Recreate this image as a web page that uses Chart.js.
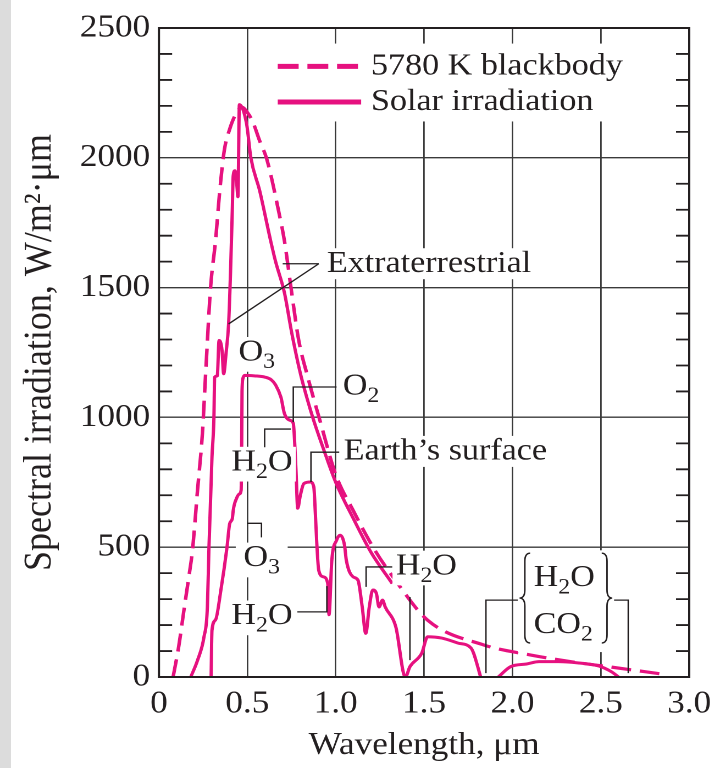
<!DOCTYPE html>
<html>
<head>
<meta charset="utf-8">
<script src="https://cdn.jsdelivr.net/npm/chart.js@4.4.1/dist/chart.umd.min.js"></script>
<style>
  html, body { margin: 0; padding: 0; overflow: hidden; background: #fff; }
  #wrap { position: relative; width: 720px; height: 768px;
          background: linear-gradient(to right, #dcdcdc 0, #dcdcdc 11px, #fff 11px); }
  #c { position: absolute; left: 0; top: 0; transform: scaleX(1.0992); transform-origin: 0 0; }
</style>
</head>
<body>
<div id="wrap"><canvas id="c" width="655" height="768"></canvas></div>
<script>
const MAGENTA = '#e6117f';
const INK = '#231f20';
const SERIF = '"Liberation Serif", Tinos, "Times New Roman", Times, serif';

// axis ticks
const xTickValues = [0, 0.5, 1.0, 1.5, 2.0, 2.5, 3.0];
const xTickLabels = ['0', '0.5', '1.0', '1.5', '2.0', '2.5', '3.0'];
const yTickValues = [0, 500, 1000, 1500, 2000, 2500];
const yTickLabels = ['0', '500', '1000', '1500', '2000', '2500'];

// 5780 K blackbody (dashed)
const blackbodyWl = [0.08, 0.11, 0.144, 0.17, 0.19, 0.218, 0.246, 0.265, 0.292, 0.32, 0.345, 0.37, 0.40, 0.44, 0.47, 0.50,
  0.53, 0.57, 0.61, 0.68, 0.71, 0.747, 0.79, 0.84, 0.91, 1.0, 1.1, 1.22, 1.33, 1.52, 1.84, 2.10, 2.34, 2.56, 2.84];
const blackbodyVal = [0, 110, 270, 390, 490, 718, 940, 1180, 1500, 1680, 1880, 2030, 2110, 2175, 2195, 2175,
  2140, 2065, 1995, 1785, 1680, 1500, 1300, 1160, 990, 780, 640, 490, 380, 219, 123, 85, 58, 38, 12];

// extraterrestrial solar irradiation
const extraWl = [0.18, 0.218, 0.255, 0.274, 0.283, 0.30, 0.311, 0.315, 0.33, 0.34, 0.357, 0.366, 0.38, 0.394, 0.405,
  0.415, 0.42, 0.43, 0.44, 0.447, 0.455, 0.496, 0.52, 0.57, 0.632, 0.66, 0.71, 0.75, 0.80, 0.87, 0.93, 1.0, 1.1, 1.2, 1.32];
const extraVal = [0, 64, 155, 270, 500, 847, 1000, 1155, 1160, 1296, 1257, 1168, 1250, 1360, 1560,
  1800, 1930, 1950, 1900, 1850, 2205, 2130, 2000, 1873, 1680, 1600, 1480, 1330, 1170, 1000, 880, 750, 610, 480, 360];

// irradiation at earth's surface
const surfaceWl = [0.295, 0.30, 0.32, 0.35, 0.385, 0.40, 0.415, 0.42, 0.425, 0.44, 0.455, 0.465, 0.468, 0.47, 0.475,
  0.485, 0.54, 0.60, 0.635, 0.66, 0.69, 0.71, 0.745, 0.76, 0.775, 0.785, 0.80, 0.82, 0.857, 0.876, 0.885,
  0.894, 0.904, 0.93, 0.955, 0.962, 0.978, 1.005, 1.024, 1.05, 1.06, 1.098, 1.126, 1.15, 1.17, 1.19, 1.21, 1.23,
  1.245, 1.265, 1.28, 1.34, 1.394, 1.42, 1.487, 1.52, 1.60, 1.69, 1.765, 1.78, 1.82, 1.87, 1.92, 1.99, 2.08,
  2.15, 2.26, 2.375, 2.49, 2.56, 2.60];
const surfaceVal = [0, 180, 220, 333, 500, 590, 610, 640, 660, 690, 705, 720, 885, 1100, 1150,
  1162, 1160, 1155, 1145, 1125, 1078, 1015, 988, 977, 800, 650, 700, 745, 751, 732, 628,
  501, 411, 386, 360, 240, 450, 527, 546, 507, 450, 386, 373, 270, 168, 270, 335, 322,
  270, 296, 270, 193, 0, 40, 92, 155, 150, 131, 112, 92, 0, null, 0, 40, 50,
  59, 59, 54, 42, 20, 0];

function toPoints(xs, ys) {
  return xs.map(function (x, i) { return { x: x, y: ys[i] }; });
}

// text labels, anchored at left edge / vertical middle (data units)
var labels = [
  { parts: [['Extraterrestrial']], x: 0.95, y: 1592, pad: 3 },
  { parts: [['O'], ['3', 1]], x: 0.45, y: 1250, pad: 3 },
  { parts: [['O'], ['2', 1]], x: 1.04, y: 1120, pad: 2 },
  { parts: [['H'], ['2', 1], ['O']], x: 0.41, y: 827, pad: 3 },
  { parts: [['Earth\u2019s surface']], x: 1.045, y: 869, pad: 3 },
  { parts: [['O'], ['3', 1]], x: 0.478, y: 458, pad: 7 },
  { parts: [['H'], ['2', 1], ['O']], x: 0.41, y: 235, pad: 3 },
  { parts: [['H'], ['2', 1], ['O']], x: 1.34, y: 427, pad: 3 },
  { parts: [['H'], ['2', 1], ['O']], x: 2.12, y: 381, pad: 0, nobox: true },
  { parts: [['CO'], ['2', 1]], x: 2.12, y: 200, pad: 0, nobox: true }
];

// thin black leader lines
var leaders = [
  [[0.70, 1592], [0.904, 1592]],
  [[0.394, 1360], [0.904, 1592]],
  [[1.005, 1117], [0.76, 1117], [0.76, 982]],
  [[0.598, 885], [0.598, 955], [0.746, 955]],
  [[1.02, 866], [0.86, 866], [0.86, 751]],
  [[0.5, 592], [0.58, 592], [0.58, 538]],
  [[0.783, 251], [0.95, 251], [0.95, 350]],
  [[1.32, 424], [1.172, 424], [1.172, 347]],
  [[1.42, 308], [1.42, 65]],
  [[2.03, 296], [1.85, 296], [1.85, 15]],
  [[2.575, 296], [2.655, 296], [2.655, 15]]
];

function setFont(ctx, size) { ctx.font = size + 'px ' + SERIF; }

function richWidth(ctx, parts, size) {
  var w = 0;
  parts.forEach(function (p) {
    setFont(ctx, p[1] ? size * 0.7 : size);
    w += ctx.measureText(p[0]).width;
  });
  return w;
}

function drawRich(ctx, parts, x, y, size) {
  ctx.textBaseline = 'middle';
  ctx.textAlign = 'left';
  parts.forEach(function (p) {
    setFont(ctx, p[1] ? size * 0.7 : size);
    ctx.fillText(p[0], x, p[1] ? y + size * 0.32 : y);
    x += ctx.measureText(p[0]).width;
  });
}

function brace(ctx, xb, xe, xt, y0, y1) {
  var ym = (y0 + y1) / 2, r = (y1 - y0) * 0.09;
  ctx.beginPath();
  ctx.moveTo(xe, y0);
  ctx.quadraticCurveTo(xb, y0, xb, y0 + r);
  ctx.lineTo(xb, ym - r);
  ctx.quadraticCurveTo(xb, ym, xt, ym);
  ctx.quadraticCurveTo(xb, ym, xb, ym + r);
  ctx.lineTo(xb, y1 - r);
  ctx.quadraticCurveTo(xb, y1, xe, y1);
  ctx.stroke();
}

var decor = {
  id: 'decor',
  afterDatasetsDraw: function (chart) {
    var ctx = chart.ctx, a = chart.chartArea;
    var sx = chart.scales.x, sy = chart.scales.y;
    var px = function (v) { return sx.getPixelForValue(v); };
    var py = function (v) { return sy.getPixelForValue(v); };
    var size = 31;
    ctx.save();

    // white boxes behind labels
    ctx.fillStyle = '#fff';
    labels.forEach(function (l) {
      if (l.nobox) return;
      var w = richWidth(ctx, l.parts, size);
      var sub = l.parts.some(function (p) { return p[1]; });
      ctx.fillRect(px(l.x) - l.pad, py(l.y) - size * 0.5, w + 2 * l.pad, size * (sub ? 1.12 : 1.0));
    });
    ctx.fillRect(px(2.03), py(488), px(2.58) - px(2.03), py(96) - py(488));
    // legend box
    ctx.fillRect(px(0.62), py(2440), px(2.8) - px(0.62), py(2140) - py(2440));

    // leaders
    ctx.strokeStyle = INK;
    ctx.lineWidth = 1.3;
    leaders.forEach(function (pts) {
      ctx.beginPath();
      pts.forEach(function (p, i) {
        if (i === 0) ctx.moveTo(px(p[0]), py(p[1])); else ctx.lineTo(px(p[0]), py(p[1]));
      });
      ctx.stroke();
    });
    // braces around H2O / CO2
    ctx.lineWidth = 1.4;
    brace(ctx, px(2.07), px(2.1), px(2.04), py(477), py(131));
    brace(ctx, px(2.535), px(2.505), px(2.565), py(477), py(131));

    // label text
    ctx.fillStyle = INK;
    labels.forEach(function (l) { drawRich(ctx, l.parts, px(l.x), py(l.y), size); });

    // legend
    ctx.strokeStyle = MAGENTA;
    ctx.lineWidth = 5;
    ctx.setLineDash([19, 8]);
    ctx.beginPath(); ctx.moveTo(px(0.672), py(2352)); ctx.lineTo(px(1.144), py(2352)); ctx.stroke();
    ctx.setLineDash([]);
    ctx.beginPath(); ctx.moveTo(px(0.672), py(2215)); ctx.lineTo(px(1.144), py(2215)); ctx.stroke();
    drawRich(ctx, [['5780 K blackbody']], px(1.2), py(2352), size);
    drawRich(ctx, [['Solar irradiation']], px(1.2), py(2215), size);

    // minor ticks on left and right frame
    ctx.strokeStyle = INK;
    ctx.lineWidth = 1.8;
    for (var v = 100; v < 2500; v += 100) {
      if (v % 500 === 0) continue;
      ctx.beginPath();
      ctx.moveTo(a.left, py(v)); ctx.lineTo(a.left + 12, py(v));
      ctx.moveTo(a.right - 12, py(v)); ctx.lineTo(a.right, py(v));
      ctx.stroke();
    }
    // frame
    ctx.lineWidth = 2;
    ctx.strokeRect(a.left, a.top, a.right - a.left, a.bottom - a.top);
    ctx.restore();
  }
};

var gridOpts = { color: '#3a3a3a', lineWidth: 1.4, drawTicks: false };

function draw() {
  new Chart(document.getElementById('c').getContext('2d'), {
    type: 'line',
    data: {
      datasets: [
        { label: '5780 K blackbody', data: toPoints(blackbodyWl, blackbodyVal), borderColor: MAGENTA,
          borderWidth: 3.2, borderDash: [18, 8], pointRadius: 0, cubicInterpolationMode: 'monotone', fill: false },
        { label: 'Extraterrestrial', data: toPoints(extraWl, extraVal), borderColor: MAGENTA,
          borderWidth: 3, pointRadius: 0, cubicInterpolationMode: 'monotone', fill: false },
        { label: "Earth's surface", data: toPoints(surfaceWl, surfaceVal), borderColor: MAGENTA,
          borderWidth: 3, pointRadius: 0, cubicInterpolationMode: 'monotone', fill: false, spanGaps: false }
      ]
    },
    options: {
      responsive: false,
      animation: false,
      devicePixelRatio: 2,
      layout: { padding: { top: 28, right: 16, left: 0, bottom: 0 } },
      plugins: { legend: { display: false }, tooltip: { enabled: false } },
      scales: {
        x: {
          type: 'linear', min: 0, max: 3,
          afterBuildTicks: function (s) { s.ticks = xTickValues.map(function (v) { return { value: v }; }); },
          afterFit: function (s) { s.height = 91; },
          grid: gridOpts,
          border: { display: false },
          ticks: { callback: function (v, i) { return xTickLabels[i]; }, font: { family: SERIF, size: 32 },
                   color: INK, padding: 8, maxRotation: 0, autoSkip: false },
          title: { display: true, text: 'Wavelength, μm', font: { family: SERIF, size: 32 }, color: INK,
                   padding: { top: 0, bottom: 3 } }
        },
        y: {
          min: 0, max: 2500,
          afterBuildTicks: function (s) { s.ticks = yTickValues.map(function (v) { return { value: v }; }); },
          afterFit: function (s) { s.width = 144.6; },
          grid: gridOpts,
          border: { display: false },
          ticks: { callback: function (v, i) { return yTickLabels[i]; }, font: { family: SERIF, size: 32 },
                   color: INK, padding: 8 },
          title: { display: true, text: 'Spectral irradiation, W/m²·μm', font: { family: SERIF, size: 36 },
                   color: INK, padding: { top: 15, bottom: 0 } }
        }
      }
    },
    plugins: [decor]
  });
}

if (document.fonts && document.fonts.load) {
  Promise.all([document.fonts.load('32px "Liberation Serif"'), document.fonts.load('32px Tinos')])
    .then(draw, draw);
} else {
  draw();
}
</script>
</body>
</html>
